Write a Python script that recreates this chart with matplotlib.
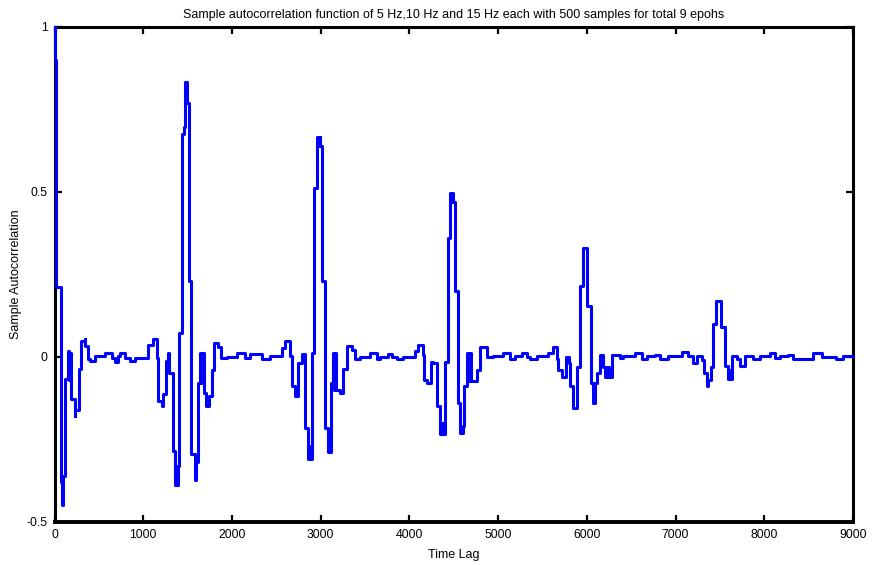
import matplotlib
matplotlib.use("Agg")
import matplotlib.pyplot as plt

# step breakpoints (lag, value), one list per burst
lag_0 = [0, 2, 20, 70, 88, 99, 122, 152, 163, 175, 183, 228, 234, 276, 302, 340, 347,
         378, 400, 456, 569, 648, 682, 716, 738, 795, 851, 907, 1054, 1110, 1155]
acf_0 = [1.0, 0.90, 0.21, -0.38, -0.45, -0.36, -0.067, 0.018, -0.07, 0.01, -0.127, -0.18, -0.16,
         -0.037, 0.048, 0.055, 0.033, -0.006, -0.012, 0.003, 0.01, -0.005, -0.015, 0.003, 0.01,
         -0.005, -0.012, -0.003, 0.035, 0.055, -0.005]

lag_1 = [1170, 1208, 1226, 1257, 1283, 1294, 1332, 1358, 1375, 1386, 1397, 1406, 1434, 1463,
         1474, 1490, 1521, 1538, 1578, 1595, 1621, 1645, 1662, 1674, 1690, 1713, 1736, 1772,
         1801, 1846, 1873, 1944, 2057, 2147, 2203, 2338, 2429, 2564, 2598, 2655]
acf_1 = [-0.133, -0.15, -0.113, -0.012, 0.012, -0.05, -0.285, -0.39, -0.33, -0.39, -0.33, 0.073,
         0.675, 0.695, 0.833, 0.77, 0.23, -0.295, -0.375, -0.32, -0.08, 0.01, -0.08, 0.01, -0.11,
         -0.15, -0.12, -0.04, 0.043, 0.03, -0.005, 0.0, 0.01, -0.005, 0.008, -0.006, 0.003,
         0.027, 0.048, 0.003]

lag_2 = [2677, 2710, 2744, 2789, 2823, 2857, 2874, 2885, 2902, 2925, 2958, 2975, 2987, 2998,
         3015, 3049, 3082, 3116, 3139, 3150, 3161, 3172, 3218, 3251, 3296, 3353, 3387, 3443,
         3556, 3635, 3669, 3759, 3804, 3860, 3928, 4063, 4097, 4153]
acf_2 = [-0.088, -0.118, -0.018, 0.009, -0.215, -0.31, -0.27, -0.31, 0.012, 0.51, 0.665, 0.64,
         0.665, 0.64, 0.23, -0.215, -0.29, -0.08, 0.012, -0.1, 0.012, -0.1, -0.11, -0.037, 0.033,
         0.02, -0.006, 0.0, 0.01, -0.006, 0.0, 0.008, -0.002, -0.008, 0.0, 0.017, 0.037, 0.005]

lag_3 = [4164, 4198, 4243, 4266, 4311, 4345, 4362, 4373, 4401, 4435, 4457, 4469, 4480, 4491,
         4514, 4548, 4570, 4604, 4615, 4649, 4666, 4683, 4700, 4762, 4795, 4829, 4874, 4942,
         5055, 5134, 5190, 5269, 5325, 5359, 5438, 5562, 5618, 5663]
acf_3 = [-0.07, -0.08, -0.015, -0.02, -0.15, -0.235, -0.2, -0.235, -0.015, 0.36, 0.497, 0.47,
         0.497, 0.47, 0.2, -0.14, -0.23, -0.21, -0.09, 0.012, -0.075, 0.012, -0.075, -0.04, 0.03,
         0.03, 0.0, 0.003, 0.01, -0.006, 0.003, 0.01, 0.0, -0.008, 0.003, 0.012, 0.03, -0.006]

lag_4 = [5675, 5720, 5765, 5799, 5815, 5843, 5889, 5922, 5956, 6007, 6046, 6069, 6091, 6114,
         6148, 6182, 6204, 6232, 6249, 6283, 6373, 6407, 6542, 6621, 6677, 6767, 6824, 6914,
         7072, 7140, 7196, 7241]
acf_4 = [-0.04, -0.06, 0.0, -0.02, -0.09, -0.155, -0.03, 0.215, 0.33, 0.155, -0.08, -0.14, -0.08,
         -0.05, 0.006, -0.03, -0.06, -0.03, -0.06, 0.006, -0.003, 0.003, 0.01, -0.006, 0.003,
         0.006, -0.006, 0.003, 0.015, 0.003, -0.02, 0.003]

lag_5 = [7297, 7320, 7354, 7371, 7399, 7421, 7455, 7517, 7556, 7590, 7607, 7624, 7635, 7691,
         7725, 7782, 7872, 7951, 8064, 8120, 8177, 8267, 8323, 8548, 8650, 8808, 8887, 9000]
acf_5 = [-0.01, -0.05, -0.09, -0.07, -0.03, 0.1, 0.17, 0.09, -0.027, -0.067, -0.04, -0.067,
         0.003, -0.006, -0.027, 0.003, -0.006, 0.003, 0.01, -0.004, 0.003, 0.006, -0.006, 0.01,
         0.0, -0.008, 0.003, 0.003]

x_ticks = [0, 1000, 2000, 3000, 4000, 5000, 6000, 7000, 8000, 9000]
y_ticks = [-0.5, 0, 0.5, 1]
y_tick_labels = ['-0.5', '0', '0.5', '1']

plt.rcParams['font.family'] = ['Liberation Sans Narrow', 'Liberation Sans', 'DejaVu Sans']

lags = lag_0 + lag_1 + lag_2 + lag_3 + lag_4 + lag_5
acf = acf_0 + acf_1 + acf_2 + acf_3 + acf_4 + acf_5

fig = plt.figure(figsize=(8.72, 5.65), dpi=100)
ax = fig.add_axes([0.0625, 0.0766, 0.9157, 0.876])

# drawn over the spines, like the original where the lag-0 drop sits on the left edge
ax.plot(lags, acf, drawstyle='steps-post', color='#0000ff', linewidth=2.2,
        zorder=3, clip_on=False)

ax.set_xlim(0, 9000)
ax.set_ylim(-0.5, 1)
ax.set_xticks(x_ticks)
ax.set_xticklabels([str(t) for t in x_ticks])
ax.set_yticks(y_ticks)
ax.set_yticklabels(y_tick_labels)

ax.tick_params(direction='in', length=5, width=1.6, labelsize=8.8,
               top=True, right=True, pad=5)
for side in ax.spines.values():
    side.set_linewidth(2.2)
ax.spines['bottom'].set_linewidth(2.8)

ax.set_title("Sample autocorrelation function of 5 Hz,10 Hz and 15 Hz each with 500 samples for total 9 epohs",
             fontsize=9, pad=6)
ax.set_xlabel("Time Lag", fontsize=9, labelpad=6)
ax.set_ylabel("Sample Autocorrelation", fontsize=9, labelpad=3)

fig.savefig("out.png", dpi=100)
